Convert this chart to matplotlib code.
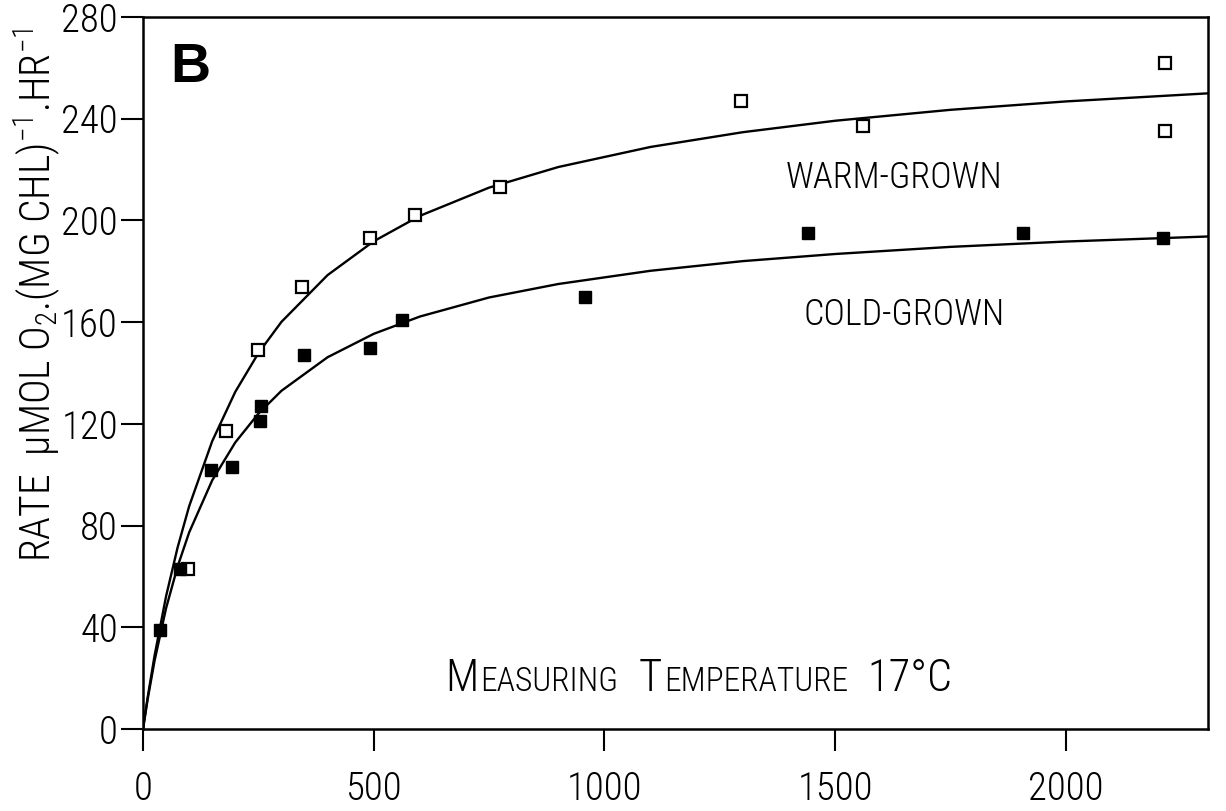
import matplotlib
matplotlib.use('Agg')
import matplotlib.pyplot as plt

plt.rcParams['font.family'] = ['Roboto Condensed', 'DejaVu Sans']
plt.rcParams['font.weight'] = 'light'
plt.rcParams['mathtext.default'] = 'regular'

# open squares: warm-grown
warm_x = [97, 179, 249, 344, 491, 590, 774, 1295, 1561, 2215, 2215]
warm_y = [63, 117, 149, 174, 193, 202, 213, 247, 237, 262, 235]

# filled squares: cold-grown
cold_x = [37, 80, 147, 193, 253, 255, 348, 491, 562, 957, 1441, 1906, 2211]
cold_y = [39, 63, 102, 103, 121, 127, 147, 150, 161, 170, 195, 195, 193]

# fitted curves
curve_x = [0, 10, 25, 50, 75, 100, 150, 200, 250, 300, 400, 500, 600,
           750, 900, 1100, 1300, 1500, 1750, 2000, 2310]
warm_fit = [0, 12.3, 28.8, 52.2, 71.4, 87.6, 113.2, 132.6, 147.8, 160.1, 178.5,
            191.8, 201.8, 212.9, 221.0, 228.9, 234.7, 239.2, 243.5, 246.8, 250.0]
cold_fit = [0, 11.6, 26.8, 47.5, 63.9, 77.3, 97.8, 112.7, 124.0, 133.0, 146.2,
            155.4, 162.2, 169.7, 175.0, 180.2, 184.0, 186.8, 189.6, 191.7, 193.7]

xticks = [0, 500, 1000, 1500, 2000]
yticks = [0, 40, 80, 120, 160, 200, 240, 280]

fig = plt.figure(figsize=(12.26, 8.11), dpi=100)
ax = fig.add_axes([143/1226, 1-729/811, 1065/1226, 712/811])

ax.plot(curve_x, warm_fit, color='black', lw=1.7)
ax.plot(curve_x, cold_fit, color='black', lw=1.7)
ax.plot(warm_x, warm_y, 's', ms=9, mfc='white', mec='black', mew=1.6, zorder=5)
ax.plot(cold_x, cold_y, 's', ms=8.5, mfc='black', mec='black', zorder=5)

ax.set_xlim(0, 2308)
ax.set_ylim(0, 280)
ax.set_xticks(xticks)
ax.set_yticks(yticks)
ax.tick_params(direction='out', length=16, width=1.5, labelsize=28)
ax.tick_params(axis='x', pad=14)
ax.tick_params(axis='y', pad=2)
for s in ax.spines.values():
    s.set_linewidth(1.8)

fig.text(37/1226, 1-295/811,
         r'RATE  µMOL O$_2$.(MG CHL)$^{-1}$.HR$^{-1}$',
         rotation=90, ha='center', va='center', fontsize=30)

ax.text(58, 254.5, 'B', fontsize=40, fontweight='bold', family='Liberation Sans')
ax.text(1392, 212.6, 'WARM-GROWN', fontsize=26)
ax.text(1431, 158.7, 'COLD-GROWN', fontsize=26)

# small-caps style caption, pieces placed one after another
fig.canvas.draw()
renderer = fig.canvas.get_renderer()
xpix, ypix = ax.transData.transform((655, 15))
pieces = [('M', 32, 2), ('EASURING', 24, 20), ('T', 32, 2),
          ('EMPERATURE', 24, 20), ('17°C', 32, 0)]
for s, size, gap in pieces:
    t = fig.text(xpix / fig.bbox.width, ypix / fig.bbox.height, s,
                 fontsize=size, va='baseline', ha='left')
    xpix += t.get_window_extent(renderer).width + gap

fig.savefig('out.png', dpi=100)
